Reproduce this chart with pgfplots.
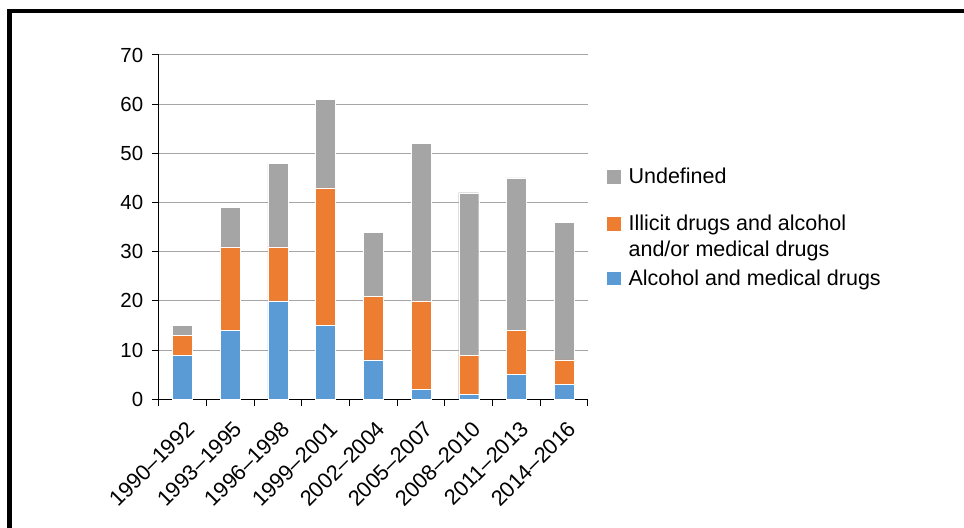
\documentclass[border=0pt]{standalone}
\usepackage{pgfplots}
\usepackage{pgfplotstable}
\pgfplotsset{compat=1.18}
\usepackage{fontspec}
\setmainfont{Liberation Sans}
\definecolor{cblue}{HTML}{5B9BD5}
\definecolor{corange}{HTML}{ED7D31}
\definecolor{cgray}{HTML}{A5A5A5}
\pgfplotstableread{
x a b c
0 9 4 2
1 14 17 8
2 20 11 17
3 15 28 18
4 8 13 13
5 2 18 32
6 1 8 33
7 5 9 31
8 3 5 28
}\data
\newcommand{\lf}{\fontsize{10.75pt}{13pt}\selectfont}
\begin{document}
\begin{tikzpicture}
\useasboundingbox (0,0) rectangle (482pt,264pt);
\draw[line width=2.15pt] (4.75pt,-3pt) -- (4.75pt,258.5pt) -- (485pt,258.5pt);
\begin{axis}[
  at={(79.35pt,64.35pt)}, anchor=south west,
  scale only axis, width=214.65pt, height=172.15pt,
  ybar stacked, bar width=10pt,
  xmin=-0.5, xmax=8.5, ymin=0, ymax=70,
  ytick={0,10,...,70},
  xtick={-0.5,0.5,...,8.5},
  xticklabel={\mbox{}},
  extra x ticks={0,1,2,3,4,5,6,7,8},
  extra x tick labels={1990--1992,1993--1995,1996--1998,1999--2001,2002--2004,2005--2007,2008--2010,2011--2013,2014--2016},
  extra x tick style={major tick length=0pt, grid=none},
  axis x line*=bottom, axis y line*=left,
  axis line style={line width=0.5pt, -, black},
  ymajorgrids, grid style={line width=0.5pt, black!35},
  tick align=outside, major tick length=3.3pt,
  tick style={line width=0.5pt, black},
  /pgf/number format/assume math mode=true,
  yticklabel style={font=\fontsize{10.2pt}{13pt}\selectfont, inner sep=0pt, xshift=-4.3pt},
  xticklabel style={font=\fontsize{10.9pt}{13pt}\selectfont, inner sep=0pt, xshift=1.2pt, yshift=-10pt, rotate=45, anchor=north east},
  reverse legend,
  legend style={at={(1.0443,0.6834)}, anchor=north west, draw=none, fill=none,
    inner sep=0pt, row sep=0pt, column sep=2pt, font=\lf,
    cells={anchor=base west, inner sep=0pt}},
]
\addplot[fill=cblue, draw=white, line width=0.2pt,
  legend image code/.code={\fill[cblue] (0pt,0.3pt) rectangle (6.4pt,6.7pt);
    \path[fill=none, draw=none] (0pt,-2pt) rectangle (6.4pt,7.5pt);}]
  table[x=x, y=a] {\data};
\addlegendentry{Alcohol and medical drugs}
\addplot[fill=corange, draw=white, line width=0.2pt,
  legend image code/.code={\fill[corange] (0pt,0.3pt) rectangle (6.4pt,6.7pt);
    \path[fill=none, draw=none] (0pt,-17.5pt) rectangle (6.4pt,7.5pt);}]
  table[x=x, y=b] {\data};
\addlegendentry{\vtop{\baselineskip=13pt\hbox{Illicit drugs and alcohol}\hbox{and/or medical drugs}}}
\addplot[fill=cgray, draw=white, line width=0.2pt,
  legend image code/.code={\fill[cgray] (0pt,0.3pt) rectangle (6.4pt,6.7pt);
    \path[fill=none, draw=none] (0pt,-13.5pt) rectangle (6.4pt,7.5pt);}]
  table[x=x, y=c] {\data};
\addlegendentry{Undefined}
\end{axis}
\end{tikzpicture}
\end{document}
